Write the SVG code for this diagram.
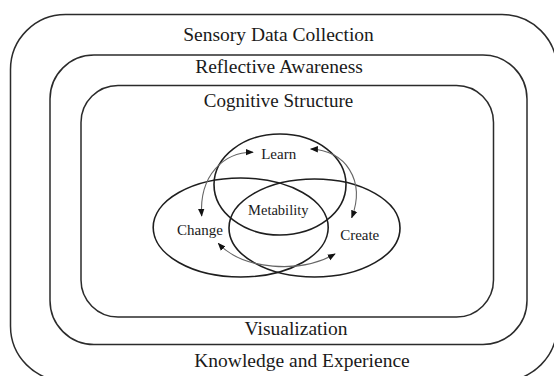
<svg xmlns="http://www.w3.org/2000/svg" width="554" height="376" viewBox="0 0 554 376">
<style>
.frame{fill:none;stroke:#2b2b2b;stroke-width:1.5}
.ell{fill:none;stroke:#1e1e1e;stroke-width:1.6}
.t{font-family:"Liberation Serif","Times New Roman",serif;fill:#1a1a1a;text-anchor:middle}
.big{font-size:19.5px}
.small{font-size:15px}
.conn{fill:none;stroke:#666;stroke-width:1.1}
</style>
<defs>
<marker id="ah" viewBox="0 0 10 10" refX="9" refY="5" markerWidth="8" markerHeight="8" markerUnits="userSpaceOnUse" orient="auto-start-reverse">
<path d="M0,1 L10,5 L0,9 Z" fill="#111"/>
</marker>
</defs>
<rect width="554" height="376" fill="#fff"/>
<g id="sensory">
<rect class="frame" x="10.5" y="14.5" width="546.5" height="366.5" rx="55" ry="55"/>
<text class="t big" x="278.5" y="40.5">Sensory Data Collection</text>
<text class="t big" x="302" y="366.5">Knowledge and Experience</text>
</g>
<g id="reflective">
<rect class="frame" x="50" y="55" width="477" height="289.5" rx="44" ry="44"/>
<text class="t big" x="279" y="73.3">Reflective Awareness</text>
<text class="t big" x="296" y="335">Visualization</text>
</g>
<g id="cognitive">
<rect class="frame" x="81" y="85.5" width="412.5" height="231.5" rx="37" ry="37"/>
<text class="t big" x="278.5" y="107.3" style="font-size:19px">Cognitive Structure</text>
</g>
<g id="learn">
<ellipse class="ell" cx="280" cy="184.5" rx="66" ry="50.5"/>
<text class="t small" x="278.7" y="159.3">Learn</text>
</g>
<g id="change">
<ellipse class="ell" cx="240.7" cy="227.5" rx="87.5" ry="49.5"/>
<text class="t small" x="200" y="235">Change</text>
</g>
<g id="create">
<ellipse class="ell" cx="314.5" cy="228" rx="85.5" ry="49"/>
<text class="t small" x="359.7" y="240">Create</text>
</g>
<g id="metability">
<text class="t small" x="278.3" y="215" style="font-size:14.5px">Metability</text>
</g>
<g id="connectors">
<path class="conn" d="M253,152.3 C224,152 199,175 201.7,216" marker-start="url(#ah)" marker-end="url(#ah)"/>
<path class="conn" d="M310.7,149 C345,150 366,180 351.7,217.7" marker-start="url(#ah)" marker-end="url(#ah)"/>
<path class="conn" d="M218.3,243.3 C243,270 300,274 335,254" marker-start="url(#ah)" marker-end="url(#ah)"/>
</g>
</svg>
